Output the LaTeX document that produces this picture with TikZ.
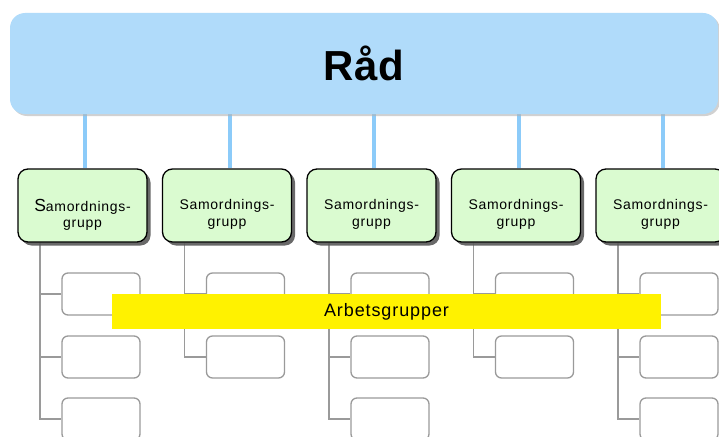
\documentclass[tikz,border=0pt]{standalone}
\usepackage{fontspec}
\setmainfont{Liberation Sans}
\usetikzlibrary{shadows,backgrounds}
\definecolor{radblue}{HTML}{B0DBFA}
\definecolor{linkblue}{HTML}{8CCBF9}
\definecolor{grpgreen}{HTML}{DAFBD0}
\definecolor{subgray}{HTML}{9A9A9A}
\newfontfamily\spacedfont[LetterSpace=5]{Liberation Sans}
\tikzset{
  radbox/.style={fill=radblue, rounded corners=15pt, minimum width=708pt, minimum height=101pt,
    drop shadow={shadow xshift=2pt, shadow yshift=-2pt, fill=black!30, opacity=0.6}},
  grpbox/.style={draw=black, line width=1.3pt, fill=grpgreen, rounded corners=10pt,
    minimum width=129pt, minimum height=73pt,
    drop shadow={shadow xshift=3.5pt, shadow yshift=-3.5pt, fill=black!65, opacity=0.9}},
  grptext/.style={font=\spacedfont\fontsize{14}{16.5}\selectfont, align=center},
  subbox/.style={draw=subgray, line width=1.3pt, fill=white, rounded corners=6pt,
    minimum width=78pt, minimum height=42pt},
  bluelink/.style={draw=linkblue, line width=4pt},
  graylink/.style={draw=subgray, line width=1.2pt},
  agbox/.style={fill=yellow, minimum width=549pt, minimum height=35pt,
    font=\spacedfont\fontsize{18}{20}\selectfont}
}
\begin{document}
\begin{tikzpicture}[x=1pt, y=-1pt]

  \newcommand\GX{144.5}
  \newcommand\GY{205.5}

  \clip (0,0) rectangle (719,436);
  \useasboundingbox (0,0) rectangle (719,436);

  \node[radbox] (rad) at (364,63.5) {\fontsize{42}{46}\selectfont\bfseries R\kern1ptå\kern1ptd};

  \foreach \i/\n in {1/3,2/2,3/3,4/2,5/3}{
    \node[grpbox] (g\i) at ({82.5+(\i-1)*\GX},\GY) {};
    \ifnum\i=1
      \node[grptext] (gt\i) at ([yshift=-9.5pt]g\i.center) {{\fontsize{17.5}{16.5}\selectfont S}amordnings-\\grupp};
    \else
      \node[grptext] (gt\i) at ([yshift=-9pt]g\i.center) {Samordnings-\\grupp};
    \fi
    \foreach \j/\sy in {1/294,2/357,3/419}{
      \ifnum\j>\n\else
        \node[subbox] (s\i-\j) at ({82.5+(\i-1)*\GX+18.5},\sy) {};
      \fi
    }
  }

  \begin{pgfonlayer}{background}
    \foreach \i/\n in {1/3,2/2,3/3,4/2,5/3}{
      \draw[bluelink] ([xshift=2.5pt]g\i.north) -- ([xshift=2.5pt]g\i.north |- rad.south); %% rad -> g
      \foreach \j in {1,...,\n}{
        \draw[graylink] ([xshift=-42.5pt]g\i.south) |- (s\i-\j.west); %% g -> s
      }
    }
  \end{pgfonlayer}

  \node[agbox] (ag) at (386.5,311.5) {Arbetsgrupper};
\end{tikzpicture}
\end{document}
